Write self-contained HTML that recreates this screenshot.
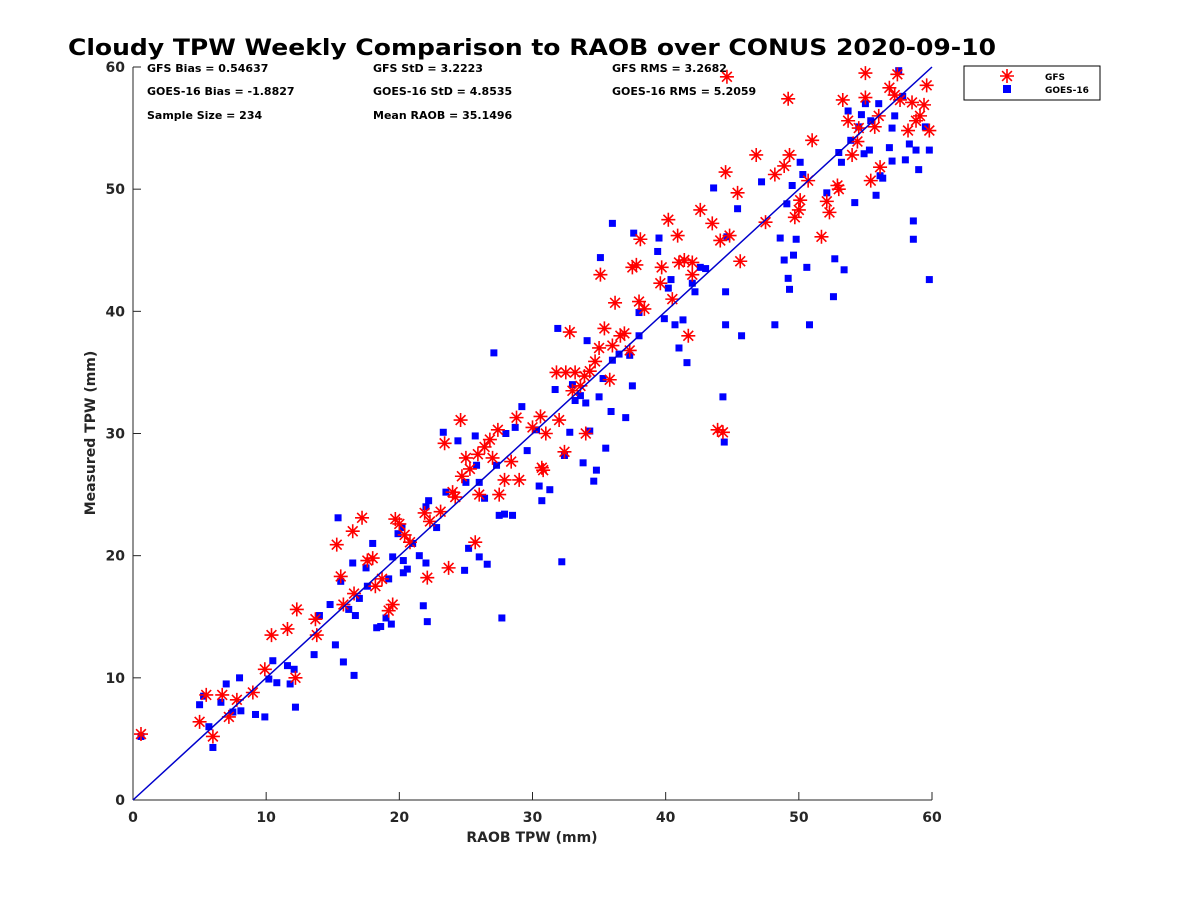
<!DOCTYPE html>
<html><head><meta charset="utf-8"><style>
body{margin:0;background:#fff;}
svg{display:block;font-family:"DejaVu Sans","Liberation Sans",sans-serif;}
</style></head><body>
<svg id="chart" width="1200" height="900">
<text x="532" y="55" text-anchor="middle" font-size="22" font-weight="bold" textLength="928" lengthAdjust="spacingAndGlyphs">Cloudy TPW Weekly Comparison to RAOB over CONUS 2020-09-10</text>
<g font-size="11" font-weight="bold">
<text x="147" y="72">GFS Bias = 0.54637</text>
<text x="373" y="72">GFS StD = 3.2223</text>
<text x="612" y="72">GFS RMS = 3.2682</text>
<text x="147" y="95">GOES-16 Bias = -1.8827</text>
<text x="373" y="95">GOES-16 StD = 4.8535</text>
<text x="612" y="95">GOES-16 RMS = 5.2059</text>
<text x="147" y="119">Sample Size = 234</text>
<text x="373" y="119">Mean RAOB = 35.1496</text>
</g>
<g id="axes"></g>
<g id="marks"></g>
<line x1="133" y1="800" x2="932" y2="67" stroke="#0000cc" stroke-width="1.5"/>
<g>
<rect x="964" y="66" width="136" height="34" fill="#fff" stroke="#000" stroke-width="1"/>
<g id="legmarks"></g>
<text x="1045" y="80" font-size="9" font-weight="bold">GFS</text>
<text x="1045" y="93" font-size="9" font-weight="bold">GOES-16</text>
</g>
<text x="532" y="842" text-anchor="middle" font-size="14" font-weight="bold" fill="#262626">RAOB TPW (mm)</text>
<text transform="translate(95,433) rotate(-90)" text-anchor="middle" font-size="14" font-weight="bold" fill="#262626">Measured TPW (mm)</text>
</svg>
<script>
const xTicks=[0,10,20,30,40,50,60];
const yTicks=[0,10,20,30,40,50,60];
const gfsX=[0.6,5,5.5,6,6.7,7.2,7.8,9,9.9,10.4,11.6,12.2,12.3,13.7,13.8,15.3,15.6,15.8,16.5,16.6,17.2,17.6,18,18.2,18.7,19.2,19.5,19.7,20,20.4,20.8,21.9,22.1,22.3,23.1,23.4,23.7,24.2,24.6,24.7,25.3,25.7,25.9,26.4,26.8,27,27.4,27.5,27.9,28.4,28.8,29,30.6,30.7,30.8,31.8,32,32.4,32.8,33.2,33.6,33.9,34.3,34.7,35.1,35.4,35.8,36.2,36.6,36.9,37.3,37.5,37.8,38.1,38.4,39.6,39.7,40.2,40.5,40.9,41.4,41.7,42,42.6,43.5,44.1,44.3,44.5,44.8,45.4,45.6,46.8,47.5,48.2,48.9,49.2,49.3,49.7,50,50.1,50.7,51,51.7,52.1,52.3,52.9,53.3,53.7,54,54.4,55,55.4,55.7,56.1,56.8,57.2,57.4,57.6,58.2,58.5,58.8,59.1,59.4,59.6,59.8,44.6,43.9,32.5,33,34,35,36,26,24,25,30,31,38,41,42,53,54.5,55,56];
const gfsY=[5.4,6.4,8.6,5.2,8.6,6.8,8.2,8.8,10.7,13.5,14,10,15.6,14.8,13.5,20.9,18.3,16,22,16.9,23.1,19.6,19.8,17.5,18.1,15.5,16,23,22.6,21.7,21.1,23.5,18.2,22.8,23.6,29.2,19,24.8,31.1,26.5,27.1,21.1,28.3,28.9,29.5,28,30.3,25,26.2,27.7,31.3,26.2,31.4,27.2,27,35,31.1,28.5,38.3,35,33.9,34.7,35.1,35.9,43,38.6,34.4,40.7,38,38.2,36.8,43.6,43.8,45.9,40.2,42.3,43.6,47.5,41,46.2,44.2,38,44,48.3,47.2,45.8,30.1,51.4,46.2,49.7,44.1,52.8,47.3,51.2,51.9,57.4,52.8,47.7,48.3,49.1,50.7,54,46.1,49,48.1,50.3,57.3,55.6,52.8,53.9,59.5,50.7,55.1,51.8,58.3,57.7,59.4,57.3,54.8,57.1,55.6,56,56.9,58.5,54.8,59.2,30.3,35,33.5,30,37,37.2,25,25.2,28,30.5,30,40.8,44,43,50,55,57.5,56];
const goesX=[0.6,5,5.3,5.7,6,6.6,7,7.5,8,8.1,9.2,9.9,10.2,10.5,10.8,11.6,11.8,12.1,12.2,13.6,14,14.8,15.2,15.4,15.6,15.8,16.2,16.5,16.6,16.7,17,17.5,17.6,18,18.3,18.6,19,19.2,19.4,19.5,19.9,20.2,20.3,20.3,20.6,21.5,21.8,22,22.1,22.2,22.8,23.3,23.5,24.4,24.9,25.2,25.7,25.8,26,26.4,26.6,27.1,27.3,27.5,27.7,27.9,28.5,28.7,29.2,29.6,30.3,30.5,30.7,31.3,31.7,31.9,32.2,32.4,32.8,33.2,33.6,33.8,34.1,34.3,34.6,34.8,35.1,35.3,35.5,35.9,36,36.5,37,37.3,37.5,37.6,38,39.4,39.5,39.9,40.2,40.4,40.7,41,41.3,41.6,42,42.2,42.6,43.6,44.3,44.4,44.5,44.5,44.6,45.4,45.7,47.2,48.2,48.6,48.9,49.1,49.2,49.3,49.5,49.6,49.8,50.1,50.3,50.6,50.8,52.1,52.6,52.7,53.2,53.4,53.7,53.9,54.2,54.5,54.7,54.9,55.3,55.4,55.8,56.1,56.3,56.8,57,57.2,57.5,57.8,58,58.3,58.6,58.6,58.8,59,59.5,59.8,59.8,36,33,34,35,38,28,26,25,21,22,43,53,55,56,57];
const goesY=[5.2,7.8,8.5,6,4.3,8,9.5,7.2,10,7.3,7,6.8,9.9,11.4,9.6,11,9.5,10.7,7.6,11.9,15.1,16,12.7,23.1,17.9,11.3,15.6,19.4,10.2,15.1,16.5,19,17.5,21,14.1,14.2,14.9,18.1,14.4,19.9,21.8,22.3,19.6,18.6,18.9,20,15.9,19.4,14.6,24.5,22.3,30.1,25.2,29.4,18.8,20.6,29.8,27.4,19.9,24.7,19.3,36.6,27.4,23.3,14.9,23.4,23.3,30.5,32.2,28.6,30.3,25.7,24.5,25.4,33.6,38.6,19.5,28.2,30.1,32.7,33.1,27.6,37.6,30.2,26.1,27,44.4,34.5,28.8,31.8,47.2,36.5,31.3,36.4,33.9,46.4,39.9,44.9,46,39.4,41.9,42.6,38.9,37,39.3,35.8,42.3,41.6,43.6,50.1,33,29.3,38.9,41.6,46.1,48.4,38,50.6,38.9,46,44.2,48.8,42.7,41.8,50.3,44.6,45.9,52.2,51.2,43.6,38.9,49.7,41.2,44.3,52.2,43.4,56.4,54,48.9,55.1,56.1,52.9,53.2,55.6,49.5,51.1,50.9,53.4,52.3,56,59.7,57.6,52.4,53.7,47.4,45.9,53.2,51.6,55.1,53.2,42.6,36,34,32.5,33,38,30,26,26,21,24,43.5,53,57,57,55];

const L=133,R=932,T=67,B=800;
const sx=v=>L+(v-0)/60*(R-L);
const sy=v=>B-(v-0)/60*(B-T);
const NS="http://www.w3.org/2000/svg";
function mk(tag,attrs,parent){const e=document.createElementNS(NS,tag);for(const k in attrs)e.setAttribute(k,attrs[k]);parent.appendChild(e);return e;}
const ax=document.getElementById('axes');
let a=mk('line',{x1:L,y1:B,x2:R,y2:B,stroke:'#262626','stroke-width':1},ax);


a=mk('line',{x1:L,y1:B,x2:L,y2:T,stroke:'#262626','stroke-width':1},ax);


xTicks.forEach(t=>{
 const tk=mk('line',{x1:sx(t),y1:B,x2:sx(t),y2:B-8,stroke:'#262626'},ax);
 
 
 const tx=mk('text',{x:sx(t),y:B+22,'text-anchor':'middle','font-size':14,'font-weight':'bold',fill:'#262626'},ax);
 tx.textContent=t;
 
 
});
yTicks.forEach(t=>{
 const tk=mk('line',{x1:L,y1:sy(t),x2:L+8,y2:sy(t),stroke:'#262626'},ax);
 
 
 const tx=mk('text',{x:L-8,y:sy(t)+5,'text-anchor':'end','font-size':14,'font-weight':'bold',fill:'#262626'},ax);
 tx.textContent=t;
 
 
});
function star(cx,cy,g,r){
 const d=`M${cx-r},${cy}H${cx+r}M${cx},${cy-r}V${cy+r}M${cx-r*0.7},${cy-r*0.7}L${cx+r*0.7},${cy+r*0.7}M${cx-r*0.7},${cy+r*0.7}L${cx+r*0.7},${cy-r*0.7}`;
 return mk('path',{d:d,stroke:'#ff0000','stroke-width':1.6,fill:'none'},g);
}
const marks=document.getElementById('marks');
goesX.forEach((x,i)=>{
 const s=mk('rect',{x:sx(x)-3.5,y:sy(goesY[i])-3.5,width:7,height:7,fill:'#0000ff'},marks);
 
 
});
gfsX.forEach((x,i)=>{
 const s=star(sx(x),sy(gfsY[i]),marks,7);
 
 
});
const lg=document.getElementById('legmarks');
const ls=star(1007,76,lg,7);


const lq=mk('rect',{x:1003,y:85,width:8,height:8,fill:'#0000ff'},lg);


</script>
</body></html>
